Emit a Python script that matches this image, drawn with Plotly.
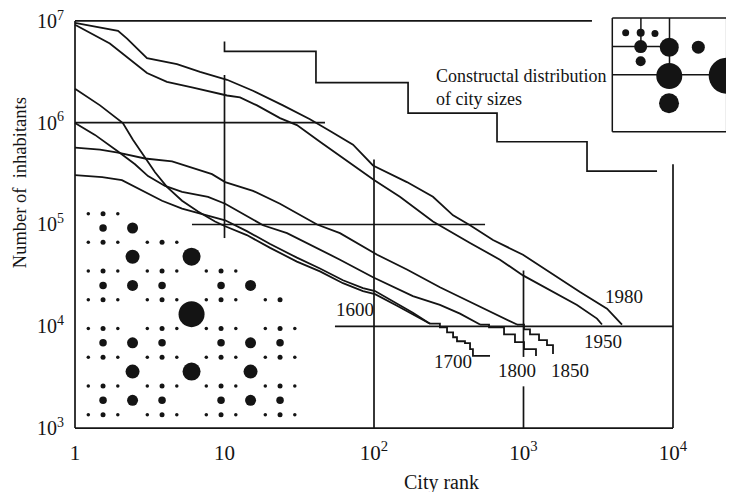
import plotly.graph_objects as go

INK = "#141414"
SERIF = "Liberation Serif"

# ---- rank-size curves (city rank, number of inhabitants) ----
rank_1980 = [1, 1.94, 2.23, 3.03, 4.81, 6.86, 10.4, 15.5, 24.6, 37.3, 50.8, 72.4, 98.5,
             166, 248, 338, 439, 625, 992, 1575, 2388, 3619, 4560]
pop_1980 = [9.57e6, 8.0e6, 6.7e6, 4.30e6, 3.76e6, 3.15e6, 2.64e6, 2.06e6, 1.48e6, 1.08e6,
            8.3e5, 6.08e5, 3.8e5, 2.61e5, 1.87e5, 1.23e5, 9.82e4, 7.04e4, 5.04e4, 3.23e4,
            2.17e4, 1.49e4, 1.04e4]

rank_1950 = [1, 1.71, 3.03, 4.12, 6.16, 10.4, 12.7, 16.5, 23.5, 30.5, 43.5, 66.0, 100,
             149, 248, 439, 696, 992, 1575, 2280, 3101, 3350]
pop_1950 = [9.15e6, 6.0e6, 3.08e6, 2.52e6, 2.21e6, 1.85e6, 1.77e6, 1.48e6, 1.11e6, 9.48e5,
            6.5e5, 4.17e5, 2.73e5, 1.87e5, 1.07e5, 6.58e4, 4.51e4, 3.16e4, 2.17e4, 1.62e4,
            1.19e4, 1.04e4]

rank_1850 = [1, 1.47, 1.94, 2.94, 4.46, 6.65, 8.25, 10.1, 15.5, 23.5, 41.6, 59.2, 105,
             166, 276, 376, 512, 696, 905]
pop_1850 = [5.69e5, 5.44e5, 5.09e5, 4.45e5, 4.17e5, 3.49e5, 3.12e5, 2.61e5, 2.14e5, 1.60e5,
            1.0e5, 8.22e4, 5.04e4, 3.61e4, 2.42e4, 1.94e4, 1.55e4, 1.24e4, 1.04e4]
rank_1850_tail = [905, 1008, 1105, 1270, 1436, 1575]
pop_1850_tail = [1.04e4, 9310, 8330, 7300, 6530, 5340]

rank_1800 = [1, 1.36, 1.94, 2.52, 3.08, 4.0, 5.20, 7.76, 10.1, 14.1, 18.1, 26.2, 39.1,
             59.2, 98.5, 182, 276, 376, 512]
pop_1800 = [9.91e5, 7.59e5, 5.20e5, 3.90e5, 2.99e5, 2.39e5, 2.09e5, 1.87e5, 1.60e5, 1.20e5,
            9.82e4, 8.22e4, 6.16e4, 4.51e4, 3.03e4, 1.98e4, 1.62e4, 1.33e4, 1.04e4]
rank_1800_tail = [512, 588, 741, 877, 1008, 1212]
pop_1800_tail = [1.04e4, 9740, 8330, 6980, 5970, 5110]

rank_1700 = [1, 1.47, 2.09, 2.44, 2.94, 3.43, 4.12, 5.20, 6.65, 8.64, 10.1, 14.1, 20.2,
             30.5, 43.5, 62.0, 84.4, 101.6, 142.5, 182, 237]
pop_1700 = [2.16e6, 1.48e6, 9.91e5, 6.79e5, 4.55e5, 3.26e5, 2.34e5, 1.71e5, 1.34e5, 1.07e5,
            9.61e4, 7.87e4, 5.89e4, 4.32e4, 3.46e4, 2.65e4, 2.22e4, 2.07e4, 1.59e4, 1.30e4,
            1.06e4]
rank_1700_tail = [237, 276, 308, 338, 359, 406, 439, 459, 597]
pop_1700_tail = [1.06e4, 9740, 8710, 7800, 7130, 6820, 5970, 5110, 5110]

rank_1600 = [1, 1.52, 2.06, 2.81, 3.82, 5.20, 7.76, 10.1, 14.1, 20.2, 30.5, 43.5, 62.0,
             84.4, 101.6, 142.5, 182, 237]
pop_1600 = [3.05e5, 2.92e5, 2.73e5, 2.14e5, 1.71e5, 1.43e5, 1.23e5, 1.10e5, 8.60e4, 6.44e4,
            4.72e4, 3.69e4, 2.83e4, 2.37e4, 2.22e4, 1.66e4, 1.36e4, 1.06e4]

# constructal staircase
rank_constructal = [10, 40.9, 169, 665, 2660, 7820]
pop_constructal = [6.27e6, 5.02e6, 2.47e6, 1.24e6, 6.5e5, 3.34e5]

# guide lines: (x0, x1, y0, y1)
guide_lines = [
    (1, 47, 1e6, 1e6),
    (10, 10, 2.94e6, 7.36e4),
    (6.06, 553, 1e5, 1e5),
    (100, 100, 4.36e5, 1e3),
    (54.8, 1e4, 1e4, 1e4),
    (1000, 1000, 3.53e4, 5000),
    (1000, 1000, 2570, 1e3),
]
# frame pieces
frame_lines = [
    (1, 1, 1e3, 1e7),
    (1, 1e4, 1e3, 1e3),
    (1, 2870, 1e7, 1e7),
    (1e4, 1e4, 3.9e5, 1e3),
]

# year labels (log10 rank, log10 population)
year_labels = ["1980", "1950", "1850", "1800", "1700", "1600"]
year_lx = [3.672, 3.532, 3.311, 2.957, 2.528, 1.873]
year_ly = [4.297, 3.853, 3.564, 3.564, 3.651, 4.162]

# ---- inset (unit square) ----
inset_x = [0.117, 0.248, 0.373, 0.248, 0.248, 0.498, 0.752, 0.498, 1.0, 0.496]
inset_y = [0.870, 0.870, 0.864, 0.749, 0.620, 0.743, 0.743, 0.490, 0.493, 0.251]
inset_d = [7, 8, 7, 13, 10, 19, 13, 26, 36, 20]
inset_lines = [
    (0, 1, 0, 0), (0, 1, 1, 1), (0, 0, 0, 1), (1, 1, 0, 1),
    (0.5, 0.5, 0.5, 1), (0, 1, 0.5, 0.5), (0.25, 0.25, 0.75, 1), (0, 0.5, 0.75, 0.75),
]

# ---- dot pattern (grid column, grid row, diameter) ----
T, S, M, L1, L2, XL, XXL = 3.5, 5, 7.5, 11, 14, 18, 26
full_cols = [0, 1, 2, 4, 5, 6, 8, 9, 10, 12, 13, 14]
full_sizes = [T, S, T, T, S, T, T, S, T, T, S, T]
dot_rows_spec = {
    0: ([0, 1, 2], [T, S, T]),
    1: ([1, 3], [M, L1]),
    2: ([0, 1, 2, 4, 5, 6], [T, S, T, T, S, T]),
    3: ([3, 7], [L2, XL]),
    4: ([0, 1, 2, 4, 5, 6, 8, 9, 10], [T, S, T, T, S, T, T, S, T]),
    5: ([1, 3, 5, 9, 11], [M, L1, M, M, L1]),
    6: ([0, 1, 2, 4, 5, 6, 8, 9, 10, 12, 13], [T, S, T, T, S, T, T, S, T, T, S]),
    7: ([7], [XXL]),
    8: (full_cols, full_sizes),
    9: ([1, 3, 5, 9, 11, 13], [M, L1, M, M, L1, M]),
    10: (full_cols, full_sizes),
    11: ([3, 7, 11], [L2, XL, L2]),
    12: (full_cols, full_sizes),
    13: ([1, 3, 5, 9, 11, 13], [M, L1, M, M, L1, M]),
    14: (full_cols, full_sizes),
}
dot_c, dot_r, dot_s = [], [], []
for r, (cols, sizes) in dot_rows_spec.items():
    for c, s in zip(cols, sizes):
        dot_c.append(c)
        dot_r.append(r)
        dot_s.append(s)

fig = go.Figure()


def add_line(x, y, shape="linear", width=1.8, xa="x", ya="y"):
    fig.add_trace(go.Scatter(x=x, y=y, mode="lines",
                             line=dict(color=INK, width=width, shape=shape),
                             hoverinfo="skip", showlegend=False, xaxis=xa, yaxis=ya))


for x0, x1, y0, y1 in frame_lines + guide_lines:
    add_line([x0, x1], [y0, y1], width=1.7)

add_line(rank_constructal, pop_constructal, shape="vh", width=1.7)

add_line(rank_1980, pop_1980)
add_line(rank_1950, pop_1950)
add_line(rank_1850, pop_1850)
add_line(rank_1850_tail, pop_1850_tail, shape="hv")
add_line(rank_1800, pop_1800)
add_line(rank_1800_tail, pop_1800_tail, shape="hv")
add_line(rank_1700, pop_1700)
add_line(rank_1700_tail, pop_1700_tail, shape="hv")
add_line(rank_1600, pop_1600)

# inset
for x0, x1, y0, y1 in inset_lines:
    add_line([x0, x1], [y0, y1], width=1.5, xa="x2", ya="y2")
fig.add_trace(go.Scatter(x=inset_x, y=inset_y, mode="markers", xaxis="x2", yaxis="y2",
                         marker=dict(size=inset_d, color=INK, opacity=1, line=dict(width=0)),
                         cliponaxis=False, hoverinfo="skip", showlegend=False))

# dot pattern
fig.add_trace(go.Scatter(x=dot_c, y=dot_r, mode="markers", xaxis="x3", yaxis="y3",
                         marker=dict(size=dot_s, color=INK, opacity=1, line=dict(width=0)),
                         cliponaxis=False, hoverinfo="skip", showlegend=False))

annotations = []
for t, lx, ly in zip(year_labels, year_lx, year_ly):
    annotations.append(dict(x=lx, y=ly, xref="x", yref="y", text=t, showarrow=False,
                            xanchor="center", yanchor="middle",
                            font=dict(family=SERIF, size=19, color=INK)))
annotations.append(dict(x=2.401, y=6.344, xref="x", yref="y",
                        text="Constructal distribution<br>of city sizes",
                        showarrow=False, xanchor="left", yanchor="middle", align="left",
                        font=dict(family=SERIF, size=18, color=INK)))
annotations.append(dict(x=-0.0802, y=0.597, xref="paper", yref="paper",
                        text="Number of\u00a0 inhabitants", textangle=-90, showarrow=False,
                        xanchor="center", yanchor="middle",
                        font=dict(family=SERIF, size=18.5, color=INK)))
annotations.append(dict(x=0.558, y=-0.1256, xref="paper", yref="paper",
                        text="City rank", showarrow=False,
                        xanchor="center", yanchor="middle",
                        font=dict(family=SERIF, size=20, color=INK)))

fig.update_layout(
    width=726, height=484,
    margin=dict(l=65, r=0, t=0, b=62),
    paper_bgcolor="white", plot_bgcolor="rgba(0,0,0,0)",
    font=dict(family=SERIF, color=INK),
    xaxis=dict(type="log", range=[-0.0134, 4.408], showgrid=False, zeroline=False,
               showline=False, ticks="",
               tickvals=[1, 10, 100, 1000, 10000],
               ticktext=["1", "10", "10<sup>2</sup>", "10<sup>3</sup>", "10<sup>4</sup>"],
               tickfont=dict(family=SERIF, size=21, color=INK), ticklabelstandoff=8,
               ticklabeloverflow="allow"),
    yaxis=dict(type="log", range=[2.981, 7.058], showgrid=False, zeroline=False,
               showline=False, ticks="",
               tickvals=[1e3, 1e4, 1e5, 1e6, 1e7],
               ticktext=["10<sup>3</sup>", "10<sup>4</sup>", "10<sup>5</sup>",
                         "10<sup>6</sup>", "10<sup>7</sup>"],
               tickfont=dict(family=SERIF, size=20, color=INK), ticklabelstandoff=8,
               ticklabeloverflow="allow"),
    xaxis2=dict(domain=[0.8107, 1.0], range=[-0.03, 1.064], visible=False, anchor="y2"),
    yaxis2=dict(domain=[0.7104, 1.0], range=[-0.03, 1.026], visible=False, anchor="x2"),
    xaxis3=dict(domain=[0.02315, 0.33555], range=[0, 14], visible=False, anchor="y3"),
    yaxis3=dict(domain=[0.03697, 0.52133], range=[14, 0], visible=False, anchor="x3"),
    annotations=annotations,
)

fig.write_html("out.html")
